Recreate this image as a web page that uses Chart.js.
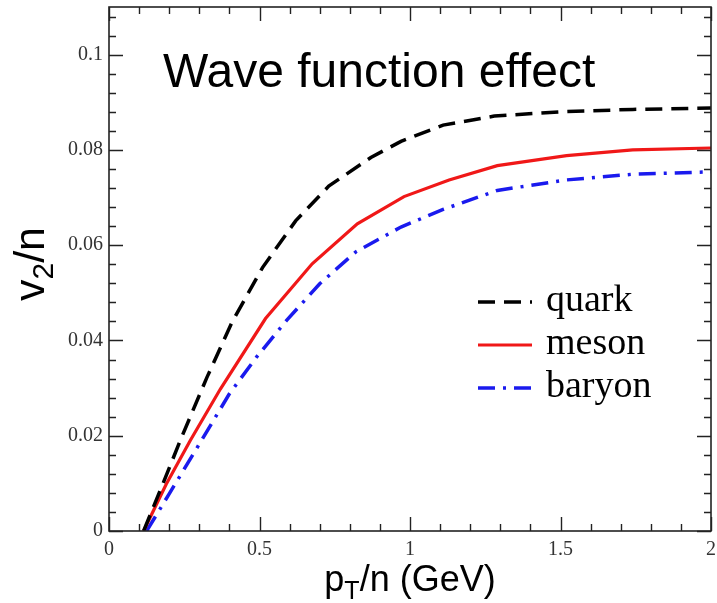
<!DOCTYPE html>
<html>
<head>
<meta charset="utf-8">
<script src="https://cdn.jsdelivr.net/npm/chart.js@4/dist/chart.umd.min.js"></script>
<style>
  html, body { margin: 0; padding: 0; background: #fff; }
  #wrap { position: relative; width: 717px; height: 603px; }
</style>
</head>
<body>
<div id="wrap"><canvas id="chart"></canvas></div>
<script>
// values (x = pT/n in GeV, y = v2/n)
const quarkX  = [0.115, 0.17, 0.24, 0.325, 0.41, 0.51, 0.62, 0.73, 0.87, 0.97, 1.11, 1.28, 1.5, 1.74, 2.0];
const quarkY  = [0, 0.0085, 0.0195, 0.0322, 0.0440, 0.0553, 0.0651, 0.0724, 0.0784, 0.0818, 0.0852, 0.0871, 0.0880, 0.0885, 0.0888];
const mesonX  = [0.115, 0.19, 0.27, 0.37, 0.52, 0.675, 0.825, 0.98, 1.13, 1.29, 1.52, 1.74, 2.0];
const mesonY  = [0, 0.0098, 0.019, 0.0298, 0.0446, 0.0561, 0.0645, 0.0702, 0.0737, 0.0767, 0.0788, 0.0800, 0.0804];
const baryonX = [0.125, 0.2, 0.29, 0.40, 0.49, 0.59, 0.70, 0.82, 0.97, 1.11, 1.29, 1.52, 1.74, 2.0];
const baryonY = [0, 0.0078, 0.0172, 0.0288, 0.0365, 0.0442, 0.0519, 0.0586, 0.0638, 0.0675, 0.0715, 0.0737, 0.0749, 0.0754];

const seriesNames = ['quark', 'meson', 'baryon'];
const xTicks = [0, 0.5, 1, 1.5, 2];
const yTicks = [0, 0.02, 0.04, 0.06, 0.08, 0.1];
const xMinorStep = 0.1;
const yMinorStep = 0.004;

const pts = (xs, ys) => xs.map((x, i) => ({ x, y: ys[i] }));

const SERIF = '"Liberation Serif", "DejaVu Serif", serif';
const SANS = '"Liberation Sans", Arial, sans-serif';

// frame with inward ticks on all four sides, like the original xmgrace plot
const framePlugin = {
  id: 'frame',
  afterDraw(chart) {
    const { ctx, chartArea: a, scales: { x, y } } = chart;
    ctx.save();
    ctx.strokeStyle = '#222';
    ctx.lineWidth = 1.6;
    ctx.strokeRect(a.left, a.top, a.right - a.left, a.bottom - a.top);

    ctx.lineWidth = 1.4;
    ctx.beginPath();
    const nx = Math.floor((x.max - x.min) / xMinorStep + 1e-6);
    for (let i = 0; i <= nx; i++) {
      const v = x.min + i * xMinorStep;
      const major = xTicks.some(t => Math.abs(t - v) < 1e-6);
      const len = major ? 14 : 7;
      const px = Math.round(x.getPixelForValue(v)) + 0.5;
      ctx.moveTo(px, a.bottom); ctx.lineTo(px, a.bottom - len);
      ctx.moveTo(px, a.top); ctx.lineTo(px, a.top + len);
    }
    const ny = Math.floor((y.max - y.min) / yMinorStep + 1e-6);
    for (let i = 0; i <= ny; i++) {
      const v = y.min + i * yMinorStep;
      const major = yTicks.some(t => Math.abs(t - v) < 1e-6);
      const len = major ? 14 : 7;
      const py = Math.round(y.getPixelForValue(v)) + 0.5;
      ctx.moveTo(a.left, py); ctx.lineTo(a.left + len, py);
      ctx.moveTo(a.right, py); ctx.lineTo(a.right - len, py);
    }
    ctx.stroke();
    ctx.restore();
  }
};

// title, axis titles with subscripts, and the in-plot legend
const textPlugin = {
  id: 'texts',
  afterDraw(chart) {
    const { ctx } = chart;
    ctx.save();
    ctx.fillStyle = '#000';
    ctx.textBaseline = 'alphabetic';

    // annotation
    ctx.font = `48px ${SANS}`;
    ctx.textAlign = 'left';
    ctx.fillText('Wave function effect', 163, 87);

    // x axis title: p_T/n (GeV)
    const big = 36, small = 25;
    ctx.font = `${big}px ${SANS}`;
    const wP = ctx.measureText('p').width;
    const wRest = ctx.measureText('/n (GeV)').width;
    ctx.font = `${small}px ${SANS}`;
    const wT = ctx.measureText('T').width;
    const cx = 410 - (wP + wT + wRest) / 2;
    ctx.font = `${big}px ${SANS}`;
    ctx.fillText('p', cx, 591);
    ctx.font = `${small}px ${SANS}`;
    ctx.fillText('T', cx + wP, 599);
    ctx.font = `${big}px ${SANS}`;
    ctx.fillText('/n (GeV)', cx + wP + wT, 591);

    // y axis title: v_2/n (rotated)
    const yb = 43, ys = 30;
    ctx.translate(44, 264);
    ctx.rotate(-Math.PI / 2);
    ctx.font = `${yb}px ${SANS}`;
    const wv = ctx.measureText('v').width;
    const wn = ctx.measureText('/n').width;
    ctx.font = `${ys}px ${SANS}`;
    const w2 = ctx.measureText('2').width;
    const sx = -(wv + w2 + wn) / 2;
    ctx.font = `${yb}px ${SANS}`;
    ctx.fillText('v', sx, 0);
    ctx.font = `${ys}px ${SANS}`;
    ctx.fillText('2', sx + wv, 9);
    ctx.font = `${yb}px ${SANS}`;
    ctx.fillText('/n', sx + wv + w2, 0);
    ctx.restore();

    // legend
    ctx.save();
    const rows = [302, 345, 388];
    chart.data.datasets.forEach((ds, i) => {
      ctx.strokeStyle = ds.borderColor;
      ctx.lineWidth = ds.borderWidth;
      ctx.setLineDash(ds.borderDash || []);
      ctx.beginPath();
      ctx.moveTo(478, rows[i]);
      ctx.lineTo(532, rows[i]);
      ctx.stroke();
      ctx.fillStyle = '#000';
      ctx.font = `38px ${SERIF}`;
      ctx.textAlign = 'left';
      ctx.fillText(seriesNames[i], 546, rows[i] + 9);
    });
    ctx.restore();
  }
};

const noPad = s => { s.paddingTop = 0; s.paddingBottom = 0; s.paddingLeft = 0; s.paddingRight = 0; };

new Chart(document.getElementById('chart'), {
  type: 'scatter',
  data: {
    datasets: [
      {
        label: seriesNames[0],
        data: pts(quarkX, quarkY),
        borderColor: '#000000',
        borderWidth: 3.5,
        borderDash: [17, 9],
      },
      {
        label: seriesNames[1],
        data: pts(mesonX, mesonY),
        borderColor: '#f01818',
        borderWidth: 3.2,
      },
      {
        label: seriesNames[2],
        data: pts(baryonX, baryonY),
        borderColor: '#1a1aee',
        borderWidth: 3.5,
        borderDash: [17, 8, 3, 8],
      },
    ].map(d => ({ ...d, showLine: true, pointRadius: 0, tension: 0, fill: false })),
  },
  options: {
    responsive: true,
    maintainAspectRatio: false,
    animation: false,
    layout: { autoPadding: false, padding: { top: 7, right: 6, left: 0, bottom: 0 } },
    plugins: {
      legend: { display: false },
      tooltip: { enabled: false },
    },
    scales: {
      x: {
        type: 'linear',
        min: 0,
        max: 2,
        afterBuildTicks: s => { s.ticks = xTicks.map(v => ({ value: v })); },
        afterFit: s => { s.height = 72; noPad(s); },
        grid: { display: false, drawTicks: false },
        border: { display: false },
        ticks: {
          padding: 7,
          color: '#333',
          font: { family: SERIF, size: 20 },
          callback: v => String(v),
        },
      },
      y: {
        type: 'linear',
        min: 0,
        max: 0.11,
        afterBuildTicks: s => { s.ticks = yTicks.map(v => ({ value: v })); },
        afterFit: s => { s.width = 109; noPad(s); },
        grid: { display: false, drawTicks: false },
        border: { display: false },
        ticks: {
          padding: 6,
          color: '#333',
          font: { family: SERIF, size: 20 },
          callback: v => String(Math.round(v * 1000) / 1000),
        },
      },
    },
  },
  plugins: [framePlugin, textPlugin],
});
</script>
</body>
</html>
